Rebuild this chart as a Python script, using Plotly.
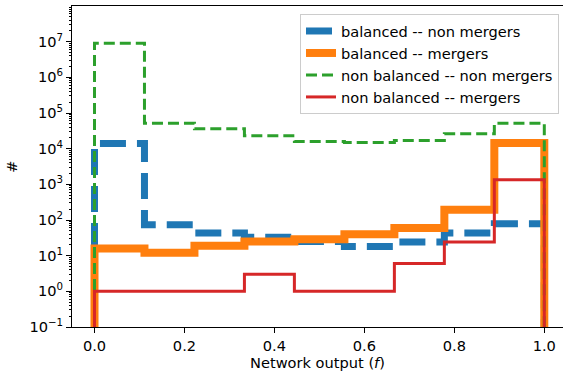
import plotly.graph_objects as go

# bin edges of the histogram (network output f)
bin_edges = [0.0, 0.1111, 0.2222, 0.3333, 0.4444, 0.5556, 0.6667, 0.7778, 0.8889, 1.0]

# counts per bin
balanced_non_mergers = [14000, 74, 43, 33, 25, 18, 24, 43, 79]
balanced_mergers = [16, 12, 19, 25, 29, 40, 60, 195, 14400]
nonbal_non_mergers = [9.0e6, 52000, 36000, 23000, 16000, 15000, 17000, 26000, 52000]
nonbal_mergers = [1, 1, 1, 3, 1, 1, 6, 24, 1340]

labels = ["balanced -- non mergers", "balanced -- mergers",
          "non balanced -- non mergers", "non balanced -- mergers"]
series = [balanced_non_mergers, balanced_mergers, nonbal_non_mergers, nonbal_mergers]
colors = ["#1f77b4", "#ff7f0e", "#2ca02c", "#d62728"]
widths = [7, 8, 3, 3]
dashes = ["26px,11px", "solid", "11px,5px", "solid"]

# axis ticks
x_tickvals = [0.0, 0.2, 0.4, 0.6, 0.8, 1.0]
y_exponents = [-1, 0, 1, 2, 3, 4, 5, 6, 7]

BASE = 1e-4  # baseline below the visible log range (like matplotlib's zero)


def step_path(edges, counts):
    xs, ys = [edges[0]], [BASE]
    for i, c in enumerate(counts):
        xs += [edges[i], edges[i + 1]]
        ys += [c, c]
    xs.append(edges[-1])
    ys.append(BASE)
    return xs, ys


fig = go.Figure()
for i, (lab, vals) in enumerate(zip(labels, series)):
    xs, ys = step_path(bin_edges, vals)
    fig.add_trace(go.Scatter(
        x=xs, y=ys, mode="lines", name=lab, legendgroup=lab,
        line=dict(color=colors[i], width=widths[i], dash=dashes[i]),
    ))

# invisible trace to carry the minor-tick overlay axis
fig.add_trace(go.Scatter(x=[0.5], y=[1], yaxis="y2", mode="markers",
                         marker=dict(opacity=0), showlegend=False, hoverinfo="skip"))

W, H = 563, 376
L, T, B = 72, 6, 327
R = 563
px_per_unit = 449.8
x0_px = 94.5
xmin = (L - x0_px) / px_per_unit
xmax = (R - x0_px) / px_per_unit

FS = 14.6
y_tickvals = [10.0 ** e for e in y_exponents]
y_ticktext = [f"10<sup>{str(e).replace('-', '−')}</sup>" for e in y_exponents]
minor_vals = [m * 10.0 ** e for e in range(-1, 8) for m in range(2, 10)]

fig.update_layout(
    width=W, height=H,
    margin=dict(l=L, r=W - R, t=T, b=H - B),
    paper_bgcolor="white", plot_bgcolor="white",
    font=dict(family="DejaVu Sans", size=FS, color="black"),
    showlegend=True,
    legend=dict(
        x=(559 - L) / (R - L), xanchor="right",
        y=1 - (14 - T) / (B - T), yanchor="top",
        bgcolor="rgba(255,255,255,0.8)", bordercolor="#cccccc", borderwidth=1,
        font=dict(size=FS), tracegroupgap=0, itemwidth=30,
    ),
    xaxis=dict(
        range=[xmin, xmax], showgrid=False, zeroline=False,
        showline=True, linecolor="black", linewidth=1, mirror=True,
        ticks="outside", ticklen=5, tickwidth=1, tickcolor="black",
        tickvals=x_tickvals, tickformat=".1f",
        title=dict(text="Network output (<i>f</i>)", standoff=4, font=dict(size=FS)),
    ),
    yaxis=dict(
        type="log", range=[-1, 8], showgrid=False, zeroline=False,
        showline=True, linecolor="black", linewidth=1, mirror=False,
        ticks="outside", ticklen=5, tickwidth=1, tickcolor="black",
        tickvals=y_tickvals, ticktext=y_ticktext,
        title=dict(text="#", standoff=8, font=dict(size=FS)),
    ),
    yaxis2=dict(
        type="log", range=[-1, 8], overlaying="y", side="left",
        showgrid=False, zeroline=False, showline=False,
        ticks="outside", ticklen=2.5, tickwidth=0.8, tickcolor="black",
        tickvals=minor_vals, showticklabels=False,
    ),
)

fig.write_html("out.html")
